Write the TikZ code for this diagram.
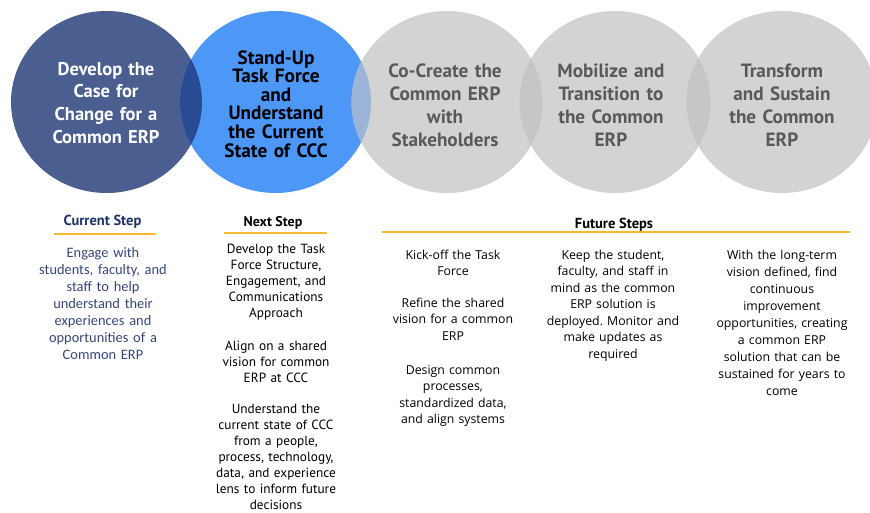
\documentclass[tikz,border=0pt]{standalone}
\usepackage{fontspec}
\setmainfont{PT Sans}
\newfontfamily\bodyfont{Carlito}
\newfontfamily\futurefont{Open Sans}
\usetikzlibrary{shapes.geometric}
\frenchspacing

\definecolor{navy}{HTML}{4A5E8F}
\definecolor{navylens}{HTML}{284B93}
\definecolor{brightblue}{HTML}{4D97F7}
\definecolor{bluegray}{HTML}{9CB4D8}
\definecolor{stagegray}{HTML}{D3D3D3}
\definecolor{graylens}{HTML}{C6C6C6}
\definecolor{graytext}{HTML}{595959}
\definecolor{gold}{HTML}{F5B82E}
\definecolor{headnavy}{HTML}{1E336A}
\definecolor{bodynavy}{HTML}{36467A}

\begin{document}
\begin{tikzpicture}[x=1pt,y=-1pt,
  stage/.style={ellipse, draw=none, minimum width=191pt, minimum height=182pt, inner sep=0pt},
  stagetext/.style={align=center, text width=170pt, inner sep=0pt, anchor=base},
  heading/.style={font=\bfseries\fontsize{14.5}{16}\selectfont, inner sep=0pt, anchor=base},
  rule/.style={draw=gold, line width=2pt},
  nextbody/.style={align=center, text width=140pt, inner sep=0pt, anchor=base,
    font=\fontsize{13.3}{16}\selectfont},
  futurebody/.style={align=center, text width=160pt, inner sep=0pt, anchor=base,
    font=\futurefont\fontsize{12.3}{16.5}\selectfont, text=black}]
\useasboundingbox (0,0) rectangle (870,512);
\clip (0,0) rectangle (870,512);

% the five stages
\node[stage, fill=navy]       (c1) at (106.5,102) {};
\node[stage, fill=brightblue] (c2) at (275.5,102) {};
\node[stage, fill=stagegray]  (c3) at (447,102) {};
\node[stage, fill=stagegray]  (c4) at (615,102) {};
\node[stage, fill=stagegray]  (c5) at (782,102) {};

% overlaps between neighbouring stages
\begin{scope}
  \clip (c1.center) ellipse [x radius=95.5, y radius=91];
  \fill[navylens] (c2.center) ellipse [x radius=95.5, y radius=91];
\end{scope}
\begin{scope}
  \clip (c2.center) ellipse [x radius=95.5, y radius=91];
  \fill[bluegray] (c3.center) ellipse [x radius=95.5, y radius=91];
\end{scope}
\begin{scope}
  \clip (c3.center) ellipse [x radius=95.5, y radius=91];
  \fill[graylens] (c4.center) ellipse [x radius=95.5, y radius=91];
\end{scope}
\begin{scope}
  \clip (c4.center) ellipse [x radius=95.5, y radius=91];
  \fill[graylens] (c5.center) ellipse [x radius=95.5, y radius=91];
\end{scope}

% stage titles
\node[stagetext, text=white, font=\bfseries\fontsize{18.5}{22.7}\selectfont] (t1) at (106,75)
  {Develop the\\Case for\\Change for a\\Common ERP};
\node[stagetext, text=black, font=\bfseries\fontsize{19.3}{18.6}\selectfont] (t2) at (276,64)
  {Stand-Up\\Task Force\\and\\Understand\\the Current\\State of CCC};
\node[stagetext, text=graytext, font=\bfseries\fontsize{19.2}{23}\selectfont] (t3) at (445,77)
  {Co-Create the\\Common ERP\\with\\Stakeholders};
\node[stagetext, text=graytext, font=\bfseries\fontsize{19.2}{23}\selectfont] (t4) at (611,77)
  {Mobilize and\\Transition to\\the Common\\ERP};
\node[stagetext, text=graytext, font=\bfseries\fontsize{19.2}{23}\selectfont] (t5) at (782,77)
  {Transform\\and Sustain\\the Common\\ERP};

% current step
\node[heading, text=headnavy] (h1) at (102.5,225) {Current Step};
\draw[rule] (54,234) -- (156,234);
\node[align=center, text width=160pt, inner sep=0pt, anchor=base, text=bodynavy,
  font=\bodyfont\fontsize{14.4}{17}\selectfont] (b1) at (103,257)
  {Engage with\\students, faculty, and\\staff to help\\understand their\\experiences and\\opportunities of a\\Common ERP};

% next step
\node[heading, text=black, font=\bfseries\fontsize{14}{16}\selectfont] (h2) at (273,226) {Next Step};
\draw[rule] (224,233) -- (327,233);
\node[nextbody] (n1) at (276,253)
  {Develop the Task\\Force Structure,\\Engagement, and\\Communications\\Approach};
\node[nextbody] (n2) at (276,350)
  {Align on a shared\\vision for common\\ERP at CCC};
\node[nextbody] (n3) at (276,413)
  {Understand the\\current state of CCC\\from a people,\\process, technology,\\data, and experience\\lens to inform future\\decisions};

% future steps
\node[heading, text=black] (h3) at (614,228) {Future Steps};
\draw[rule] (382,232) -- (850,232);
\node[futurebody] (f1) at (453,259) {Kick-off the Task\\Force};
\node[futurebody] (f2) at (453,307) {Refine the shared\\vision for a common\\ERP};
\node[futurebody] (f3) at (453,374) {Design common\\processes,\\standardized data,\\and align systems};
\node[futurebody] (f4) at (613,259)
  {Keep the student,\\faculty, and staff in\\mind as the common\\ERP solution is\\deployed. Monitor and\\make updates as\\required};
\node[futurebody, font=\futurefont\fontsize{12.3}{17.1}\selectfont] (f5) at (782,259)
  {With the long-term\\vision defined, find\\continuous\\improvement\\opportunities, creating\\a common ERP\\solution that can be\\sustained for years to\\come};
\end{tikzpicture}
\end{document}
